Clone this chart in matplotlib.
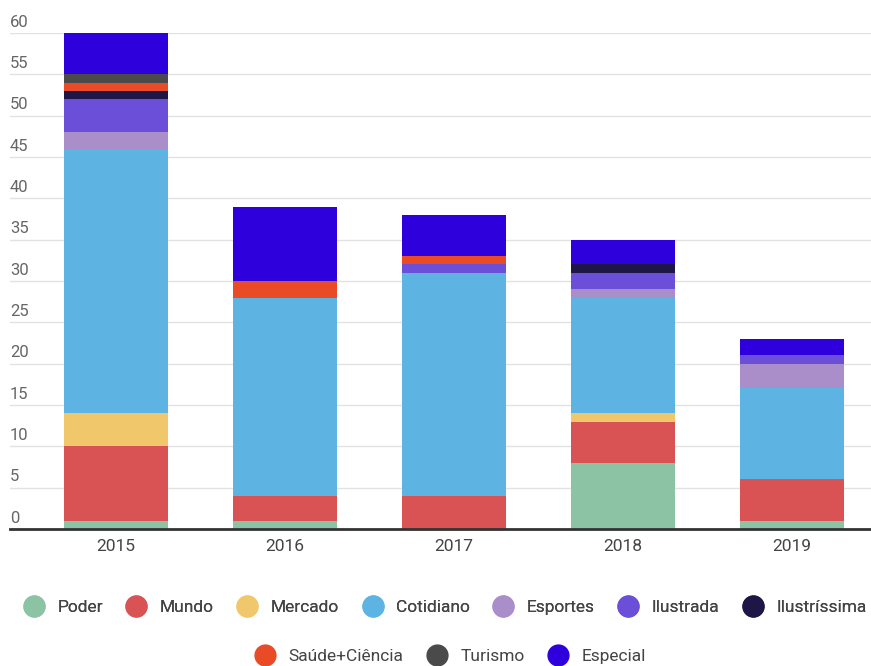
import matplotlib.pyplot as plt
import numpy as np
from matplotlib.lines import Line2D

plt.rcParams['font.family'] = ['Roboto', 'DejaVu Sans']

years = ['2015', '2016', '2017', '2018', '2019']
sections = ['Poder', 'Mundo', 'Mercado', 'Cotidiano', 'Esportes', 'Ilustrada',
            'Ilustríssima', 'Saúde+Ciência', 'Turismo', 'Especial']

poder = [1, 1, 0, 8, 1]
mundo = [9, 3, 4, 5, 5]
mercado = [4, 0, 0, 1, 0]
cotidiano = [32, 24, 27, 14, 11]
esportes = [2, 0, 0, 1, 3]
ilustrada = [4, 0, 1, 2, 1]
ilustrissima = [1, 0, 0, 1, 0]
saude = [1, 2, 1, 0, 0]
turismo = [1, 0, 0, 0, 0]
especial = [5, 9, 5, 3, 2]

series = [poder, mundo, mercado, cotidiano, esportes, ilustrada,
          ilustrissima, saude, turismo, especial]
colors = ['#8cc3a4', '#da5354', '#f0c86b', '#5db4e2', '#a98ec9', '#6b4fd8',
          '#1d1647', '#e84b26', '#4a4a4a', '#2e00dc']

fig = plt.figure(figsize=(8.71, 6.66), dpi=100)
ax = fig.add_axes([10 / 871, 1 - 529 / 666, 1 - 10 / 871, (529 - 33) / 666])

x = np.arange(len(years))
bottom = np.zeros(len(years))
for vals, col in zip(series, colors):
    ax.bar(x, vals, width=0.615, bottom=bottom, color=col, linewidth=0, zorder=3)
    bottom += np.array(vals)

ax.set_ylim(0, 60)
ax.set_xlim(-0.627, 4.47)
yticks = list(range(0, 61, 5))
ax.set_yticks(yticks)
ax.set_yticklabels([])
ax.tick_params(axis='y', length=0)
ax.grid(axis='y', color='#e2e2e2', linewidth=1, zorder=0)
for t in yticks:
    ax.text(0, t + 0.4, str(t), transform=ax.get_yaxis_transform(), ha='left',
            va='bottom', fontsize=12, color='#666666')
ax.set_xticks(x)
ax.set_xticklabels(years, fontsize=12.5, color='#444444')
ax.tick_params(axis='x', length=0, pad=7)
for s in ['top', 'right', 'left']:
    ax.spines[s].set_visible(False)
ax.spines['bottom'].set_color('#333333')
ax.spines['bottom'].set_linewidth(2)
ax.spines['bottom'].set_zorder(4)

# legend in two centred rows, like the original
handles = [Line2D([], [], marker='o', linestyle='none', markersize=15,
                  markerfacecolor=c, markeredgecolor=c) for c in colors]
leg1 = fig.legend(handles[:7], sections[:7], loc='center', ncol=7,
                  bbox_to_anchor=(0.507, 1 - 607 / 666), frameon=False,
                  fontsize=12.5, handletextpad=0.35, columnspacing=0.93,
                  labelcolor='#444444')
fig.legend(handles[7:], sections[7:], loc='center', ncol=3,
           bbox_to_anchor=(0.513, 1 - 656 / 666), frameon=False,
           fontsize=12.5, handletextpad=0.35, columnspacing=0.93,
           labelcolor='#444444')
fig.add_artist(leg1)

fig.savefig('out.png', dpi=100)
